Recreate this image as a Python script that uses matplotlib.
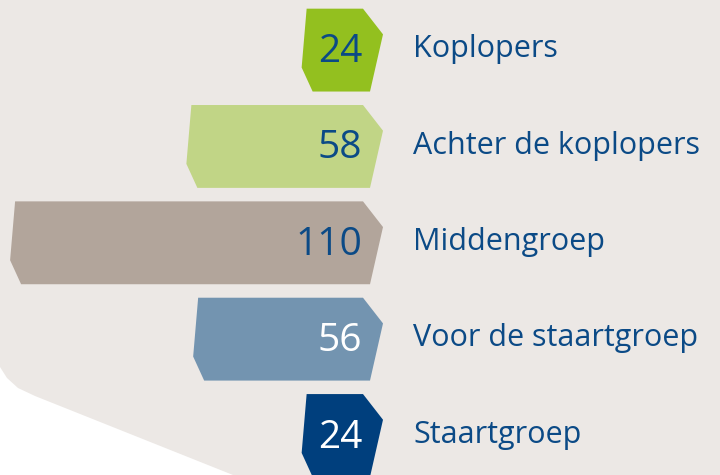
import matplotlib.pyplot as plt
from matplotlib.patches import Polygon

# data
groups = ['Koplopers', 'Achter de koplopers', 'Middengroep',
          'Voor de staartgroep', 'Staartgroep']
counts = [24, 58, 110, 56, 24]
colors = ['#93c01f', '#c1d586', '#b2a59b', '#7394b0', '#003f7d']
num_colors = ['#0b4a86', '#0b4a86', '#0b4a86', '#ffffff', '#ffffff']

text_blue = '#0b4a86'
bg = '#ece8e5'
font = ['Open Sans', 'DejaVu Sans']

fig = plt.figure(figsize=(7.2, 4.75), dpi=100, facecolor='white')

# grey background with the white corner bottom left
W, H = 720, 475
corner = [(0, 0), (720, 0), (720, 475), (233, 475), (35, 396),
          (18, 388), (7, 378), (0, 367)]
fig.patches.append(Polygon([(x / W, 1 - y / H) for x, y in corner],
                           closed=True, transform=fig.transFigure,
                           facecolor=bg, edgecolor='none', zorder=-5))

ax = fig.add_axes([0, 0, 1, 1])
ax.set_facecolor('none')
ax.set_zorder(1)
ax.axis('off')

px = 3.39  # pixels per unit
ax.set_xlim(-383 / px, (720 - 383) / px)
ax.set_ylim(4.41, -0.52)

h = 0.86
# chamfer offsets in data units
tr = 20 / px   # top right corner left of tip
br = 13 / px   # bottom right corner left of tip
tl = 5 / px    # top left right of left edge
bl = 11 / px   # bottom left right of left edge

for i, (name, n, c, nc) in enumerate(zip(groups, counts, colors, num_colors)):
    top = i - h / 2
    bot = i + h / 2
    left = -n
    pts = [(left + tl, top), (-tr, top), (0, top + 0.31 * h),
           (-br, bot), (left + bl, bot), (left, top + 0.71 * h)]
    ax.add_patch(Polygon(pts, closed=True, facecolor=c, edgecolor='none'))
    ax.text(-21 / px, i + 0.125, str(n), ha='right', va='baseline',
            fontsize=28, color=nc, family=font)
    ax.text(30 / px, i + 0.075, name, ha='left', va='baseline',
            fontsize=22, color=text_blue, family=font)

fig.savefig('out.png', dpi=100, facecolor=fig.get_facecolor())
